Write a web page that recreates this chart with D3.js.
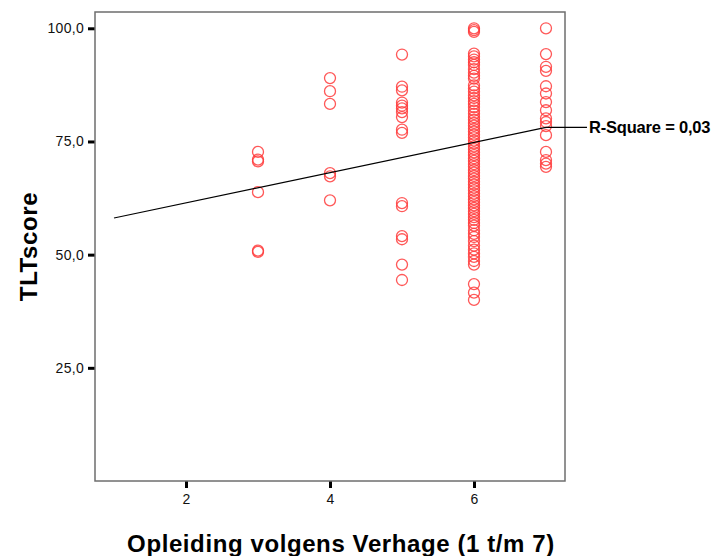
<!DOCTYPE html>
<html>
<head>
<meta charset="utf-8">
<script src="https://cdn.jsdelivr.net/npm/d3@7"></script>
<style>
  body { margin: 0; background: #fff; }
  text { font-family: Arial, "Liberation Sans", sans-serif; }
</style>
</head>
<body>
<script>
// SET UP DIMENSIONS
var w = 717,
    h = 556;

var plot = { left: 95, right: 565, top: 12, bottom: 481 };

// tick labels
var xTicks = [2, 4, 6],
    yTicks = [25, 50, 75, 100];

// TLT scores per education level
var level3 = [72.7, 71.0, 70.6, 63.8, 50.9, 50.6];
var level4 = [89.0, 86.1, 83.3, 68.0, 67.3, 62.0];
var level5 = [94.2, 87.1, 86.3, 83.6, 82.9, 82.3, 81.5, 80.4, 77.6, 76.9,
              61.4, 60.7, 54.1, 53.4, 47.8, 44.4];
var level6 = [100.0, 99.6, 99.2, 94.4, 93.8, 93.1, 92.5, 91.9, 91.0, 90.2, 89.5,
              88.9, 87.4, 86.7, 86.0, 85.2, 84.6, 83.9, 83.3, 82.6, 81.8, 81.1,
              80.4, 79.8, 79.1, 78.5, 77.8, 77.2, 76.5, 75.9, 75.2, 74.6, 73.9,
              73.3, 72.6, 72.0, 71.3, 70.7, 70.0, 69.4, 68.7, 68.1, 67.4, 66.8,
              66.1, 65.5, 64.8, 64.2, 63.5, 62.9, 62.2, 61.6, 60.9, 60.3, 59.6,
              59.0, 58.3, 57.7, 57.0, 56.4, 55.4, 54.6, 53.9, 53.0, 52.0, 51.1,
              50.3, 49.5, 48.6, 47.8, 43.5, 41.6, 40.0];
var level7 = [100.0, 94.3, 91.5, 90.6, 87.2, 85.6, 83.7, 81.9, 80.1, 79.3,
              78.4, 76.4, 72.7, 70.9, 70.1, 69.4];

var groups = [
  { level: 3, scores: level3 },
  { level: 4, scores: level4 },
  { level: 5, scores: level5 },
  { level: 6, scores: level6 },
  { level: 7, scores: level7 }
];

// linear fit line end points
var fitX = [1, 7],
    fitY = [58.1, 78.1];
var rSquareLabel = 'R-Square = 0,03';

var points = [];
groups.forEach(function(g) {
  g.scores.forEach(function(s) { points.push({ x: g.level, y: s }); });
});

// CREATE SVG
var svg = d3.select('body').append('svg')
  .attr('width', w)
  .attr('height', h);

// SET UP SCALES
var xScale = d3.scaleLinear()
  .domain([0.736, 7.264])
  .range([plot.left, plot.right]);

var yScale = d3.scaleLinear()
  .domain([0, 103.6])
  .range([plot.bottom, plot.top]);

var fmt = function(d) { return d3.format('.1f')(d).replace('.', ','); };

// AXES
var xAxis = d3.axisBottom(xScale)
  .tickValues(xTicks)
  .tickSize(7)
  .tickPadding(6)
  .tickFormat(d3.format('d'));

var yAxis = d3.axisLeft(yScale)
  .tickValues(yTicks)
  .tickSize(7)
  .tickPadding(4)
  .tickFormat(fmt);

var gx = svg.append('g')
  .attr('transform', translation(0, plot.bottom))
  .call(xAxis);

var gy = svg.append('g')
  .attr('transform', translation(plot.left, 0))
  .call(yAxis);

[gx, gy].forEach(function(g) {
  g.select('.domain').remove();
  g.selectAll('.tick line').attr('stroke', '#000').attr('stroke-width', 3);
  g.selectAll('.tick text')
    .attr('fill', '#111')
    .style('font-size', '14px')
    .style('letter-spacing', '0.3px')
    .style('font-family', 'Arial, "Liberation Sans", sans-serif');
});

// FRAME
svg.append('rect')
  .attr('x', plot.left)
  .attr('y', plot.top)
  .attr('width', plot.right - plot.left)
  .attr('height', plot.bottom - plot.top)
  .attr('fill', 'none')
  .attr('stroke', '#6e6e6e')
  .attr('stroke-width', 1.5);

// POINTS
svg.append('g').selectAll('circle')
  .data(points)
  .enter().append('circle')
    .attr('cx', function(d) { return xScale(d.x); })
    .attr('cy', function(d) { return yScale(d.y); })
    .attr('r', 5.5)
    .attr('fill', 'none')
    .attr('stroke', '#ff3b3b')
    .attr('stroke-opacity', 0.85)
    .attr('stroke-width', 1.3);

// FIT LINE
svg.append('line')
  .attr('x1', xScale(fitX[0]))
  .attr('y1', yScale(fitY[0]))
  .attr('x2', xScale(fitX[1]))
  .attr('y2', yScale(fitY[1]))
  .attr('stroke', '#000')
  .attr('stroke-width', 1.2);

// label leader and text
var labelX = 589;
svg.append('line')
  .attr('x1', xScale(fitX[1]))
  .attr('y1', yScale(fitY[1]))
  .attr('x2', labelX - 2)
  .attr('y2', yScale(fitY[1]))
  .attr('stroke', '#000')
  .attr('stroke-width', 1.2);

svg.append('text')
  .attr('x', labelX)
  .attr('y', yScale(fitY[1]) + 6)
  .style('font-size', '16.5px')
  .style('font-weight', 'bold')
  .style('letter-spacing', '-0.2px')
  .text(rSquareLabel);

// AXIS TITLES
svg.append('text')
  .attr('transform', translation(37, (plot.top + plot.bottom) / 2) + 'rotate(-90)')
  .attr('text-anchor', 'middle')
  .style('font-size', '24px')
  .style('font-weight', 'bold')
  .style('letter-spacing', '0.6px')
  .text('TLTscore');

svg.append('text')
  .attr('x', 341)
  .attr('y', 552)
  .attr('text-anchor', 'middle')
  .style('font-size', '24px')
  .style('font-weight', 'bold')
  .style('letter-spacing', '0.6px')
  .text('Opleiding volgens Verhage (1 t/m 7)');

function translation(x, y) {
  return 'translate(' + x + ',' + y + ')';
}
</script>
</body>
</html>
